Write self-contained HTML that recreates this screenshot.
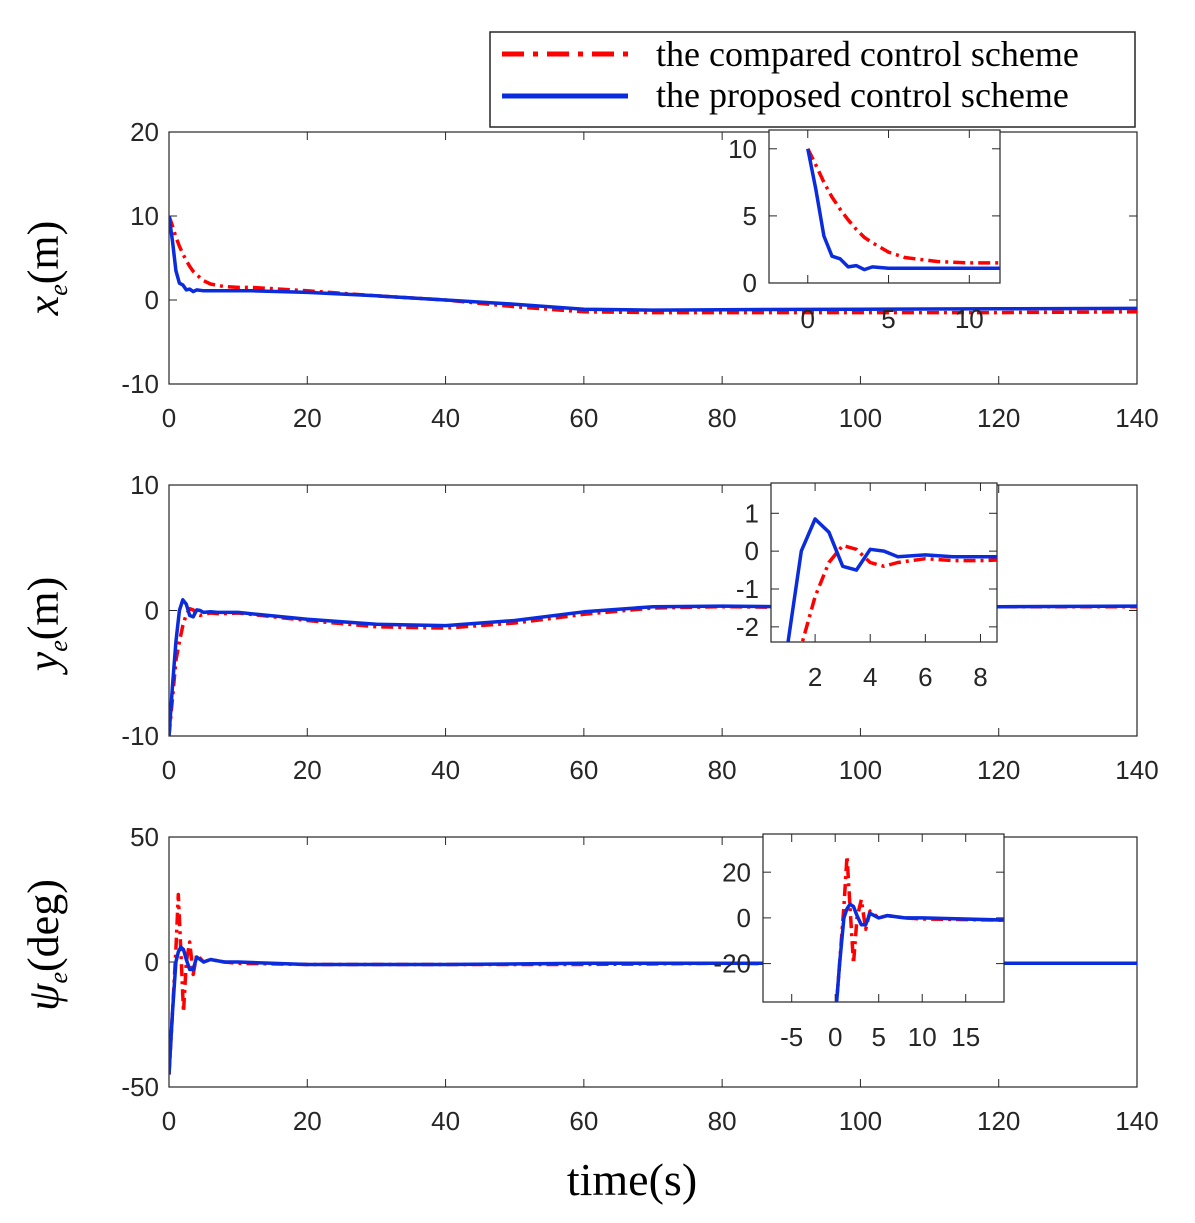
<!DOCTYPE html>
<html><head><meta charset="utf-8"><style>
body{margin:0;background:#fff;}
svg{display:block;font-family:"Liberation Sans",sans-serif;}
</style></head><body>
<svg id="c" width="1195" height="1223"></svg>
<script>
const t1=[0,0.5,1,1.5,2,2.5,3,3.5,4,5,6,8,10,12,20,30,40,50,60,70,80,100,120,140];
const xRed=[10,8.8,7.5,6.4,5.5,4.7,4,3.4,3,2.3,1.9,1.6,1.5,1.5,1.1,0.5,0,-0.8,-1.4,-1.5,-1.5,-1.5,-1.5,-1.4];
const xBlue=[10,7,3.5,2,1.8,1.2,1.3,1.0,1.2,1.1,1.1,1.1,1.1,1.1,0.9,0.5,0,-0.5,-1.1,-1.2,-1.15,-1.1,-1.05,-1.0];
const t2=[0,0.5,1,1.5,2,2.5,3,3.5,4,4.5,5,6,7,8,10,20,30,40,50,60,70,80,100,120,140];
const yRed=[-10,-7,-4,-2.5,-1.2,-0.3,0.15,0.05,-0.3,-0.4,-0.3,-0.2,-0.25,-0.25,-0.2,-0.8,-1.3,-1.4,-1.0,-0.3,0.2,0.3,0.2,0.3,0.3];
const yBlue=[-10,-6,-2.5,0,0.85,0.5,-0.4,-0.5,0.05,0,-0.15,-0.1,-0.15,-0.15,-0.15,-0.7,-1.1,-1.2,-0.8,-0.1,0.3,0.35,0.25,0.3,0.35];
const t3=[0,0.5,1,1.35,1.7,2.1,2.5,3,3.5,4,5,6,8,10,20,40,60,80,100,120,140];
const pRed=[-45,-20,5,27,5,-20,0,8,-5,3,0,1,0,-0.5,-1,-1,-1,-0.5,-1,-0.5,-0.5];
const pBlue=[-45,-20,0,4,6,5,1,-3,-3,2,0,1,0,0,-1,-1,-0.5,-0.5,-0.5,-0.5,-0.5];
const ticks1=[20,10,0,-10], ticks2=[10,0,-10], ticks3=[50,0,-50], tickX=[0,20,40,60,80,100,120,140];

const svg=document.getElementById('c');const NS='http://www.w3.org/2000/svg';
function el(tag,at,parent){const e=document.createElementNS(NS,tag);for(const k in at)e.setAttribute(k,at[k]);(parent||svg).appendChild(e);return e;}
let cid=0;
function axes(name,x0,x1,y0,y1,xmin,xmax,ymin,ymax,xt,yt,t,r,b,fs,yOff,xOff){
  const g=el('g',{});
  
  
  el('rect',{x:x0,y:y0,width:x1-x0,height:y1-y0,fill:'#fff',stroke:'#262626','stroke-width':1.2},g);
  const sx=v=>x0+(v-xmin)/(xmax-xmin)*(x1-x0), sy=v=>y1-(v-ymin)/(ymax-ymin)*(y1-y0);
  xt.forEach(v=>{const x=sx(v);el('line',{x1:x,x2:x,y1:y1,y2:y1-8,stroke:'#262626'},g);el('line',{x1:x,x2:x,y1:y0,y2:y0+8,stroke:'#262626'},g);
    const tx=el('text',{x:x,y:y1+xOff,'font-size':fs,'text-anchor':'middle',fill:'#262626'},g);tx.textContent=v;});
  yt.forEach(v=>{const y=sy(v);el('line',{x1:x0,x2:x0+8,y1:y,y2:y,stroke:'#262626'},g);el('line',{x1:x1,x2:x1-8,y1:y,y2:y,stroke:'#262626'},g);
    const tx=el('text',{x:x0-yOff,y:y+fs*0.35,'font-size':fs,'text-anchor':'end',fill:'#262626'},g);tx.textContent=v;});
  const id='cl'+(cid++);const cp=el('clipPath',{id:id},g);el('rect',{x:x0,y:y0,width:x1-x0,height:y1-y0},cp);
  const line=(ys,col,dash,nm)=>{const d=t.map((v,i)=>(i?'L':'M')+sx(v).toFixed(1)+','+sy(ys[i]).toFixed(1)).join('');
    const p=el('path',{d:d,fill:'none',stroke:col,'stroke-width':3.5,'stroke-dasharray':dash,'stroke-linejoin':'round','clip-path':'url(#'+id+')'},g);};
  line(r,'#f00','12,5,3,5','compared-series');
  line(b,'#0a2cdc','none','proposed-series');
}
axes('x-error-plot',169,1137,132,384,0,140,-10,20,tickX,ticks1,t1,xRed,xBlue,26,10,43);
axes('x-error-inset',769,1000,130,283,-2.4,11.9,0,11.4,[0,5,10],[0,5,10],t1,xRed,xBlue,26,12,45);
axes('y-error-plot',169,1137,485,736,0,140,-10,10,tickX,ticks2,t2,yRed,yBlue,26,10,43);
axes('y-error-inset',771,997,483,642,0.4,8.6,-2.4,1.8,[2,4,6,8],[1,0,-1,-2],t2,yRed,yBlue,26,12,44);
axes('heading-error-plot',169,1137,837,1087,0,140,-50,50,tickX,ticks3,t3,pRed,pBlue,26,10,43);
axes('heading-error-inset',763,1004,834,1002,-8.3,19.4,-36.8,36.7,[-5,0,5,10,15],[20,0,-20],t3,pRed,pBlue,26,12,44);
function lab(txt,x,y,nm,rot,sub,fs){const t=el('text',{x:x,y:y,'font-size':fs,'font-family':'Liberation Serif,serif','text-anchor':'middle',transform:rot?'rotate(-90 '+x+' '+y+')':''});
  
  if(sub){const a=el('tspan',{'font-style':'italic'},t);a.textContent=sub[0];const s=el('tspan',{'font-size':26,'font-style':'italic',dy:9},t);s.textContent=sub[1];const c=el('tspan',{dy:-9},t);c.textContent=txt;}else t.textContent=txt;}
lab('(m)',58,268,'x-axis-title',true,['x','e'],44);
lab('(m)',58,624,'y-axis-title',true,['y','e'],44);
lab('(deg)',58,945,'heading-axis-title',true,['ψ','e'],44);
lab('time(s)',632,1195,'time-axis-title',false,null,46);
const lg=el('g',{});
el('rect',{x:490,y:32,width:645,height:95,fill:'#fff',stroke:'#262626','stroke-width':1.5},lg);
el('line',{x1:502,x2:628,y1:54,y2:54,stroke:'#f00','stroke-width':5,'stroke-dasharray':'22,9,5,9'},lg);
el('line',{x1:502,x2:628,y1:96,y2:96,stroke:'#0a2cdc','stroke-width':5},lg);
[['the compared control scheme',66,'legend-entry-compared'],['the proposed control scheme',107,'legend-entry-proposed']].forEach(a=>{
 const t=el('text',{x:656,y:a[1],'font-size':36,'font-family':'Liberation Serif,serif'},lg);t.textContent=a[0];});
</script></body></html>
